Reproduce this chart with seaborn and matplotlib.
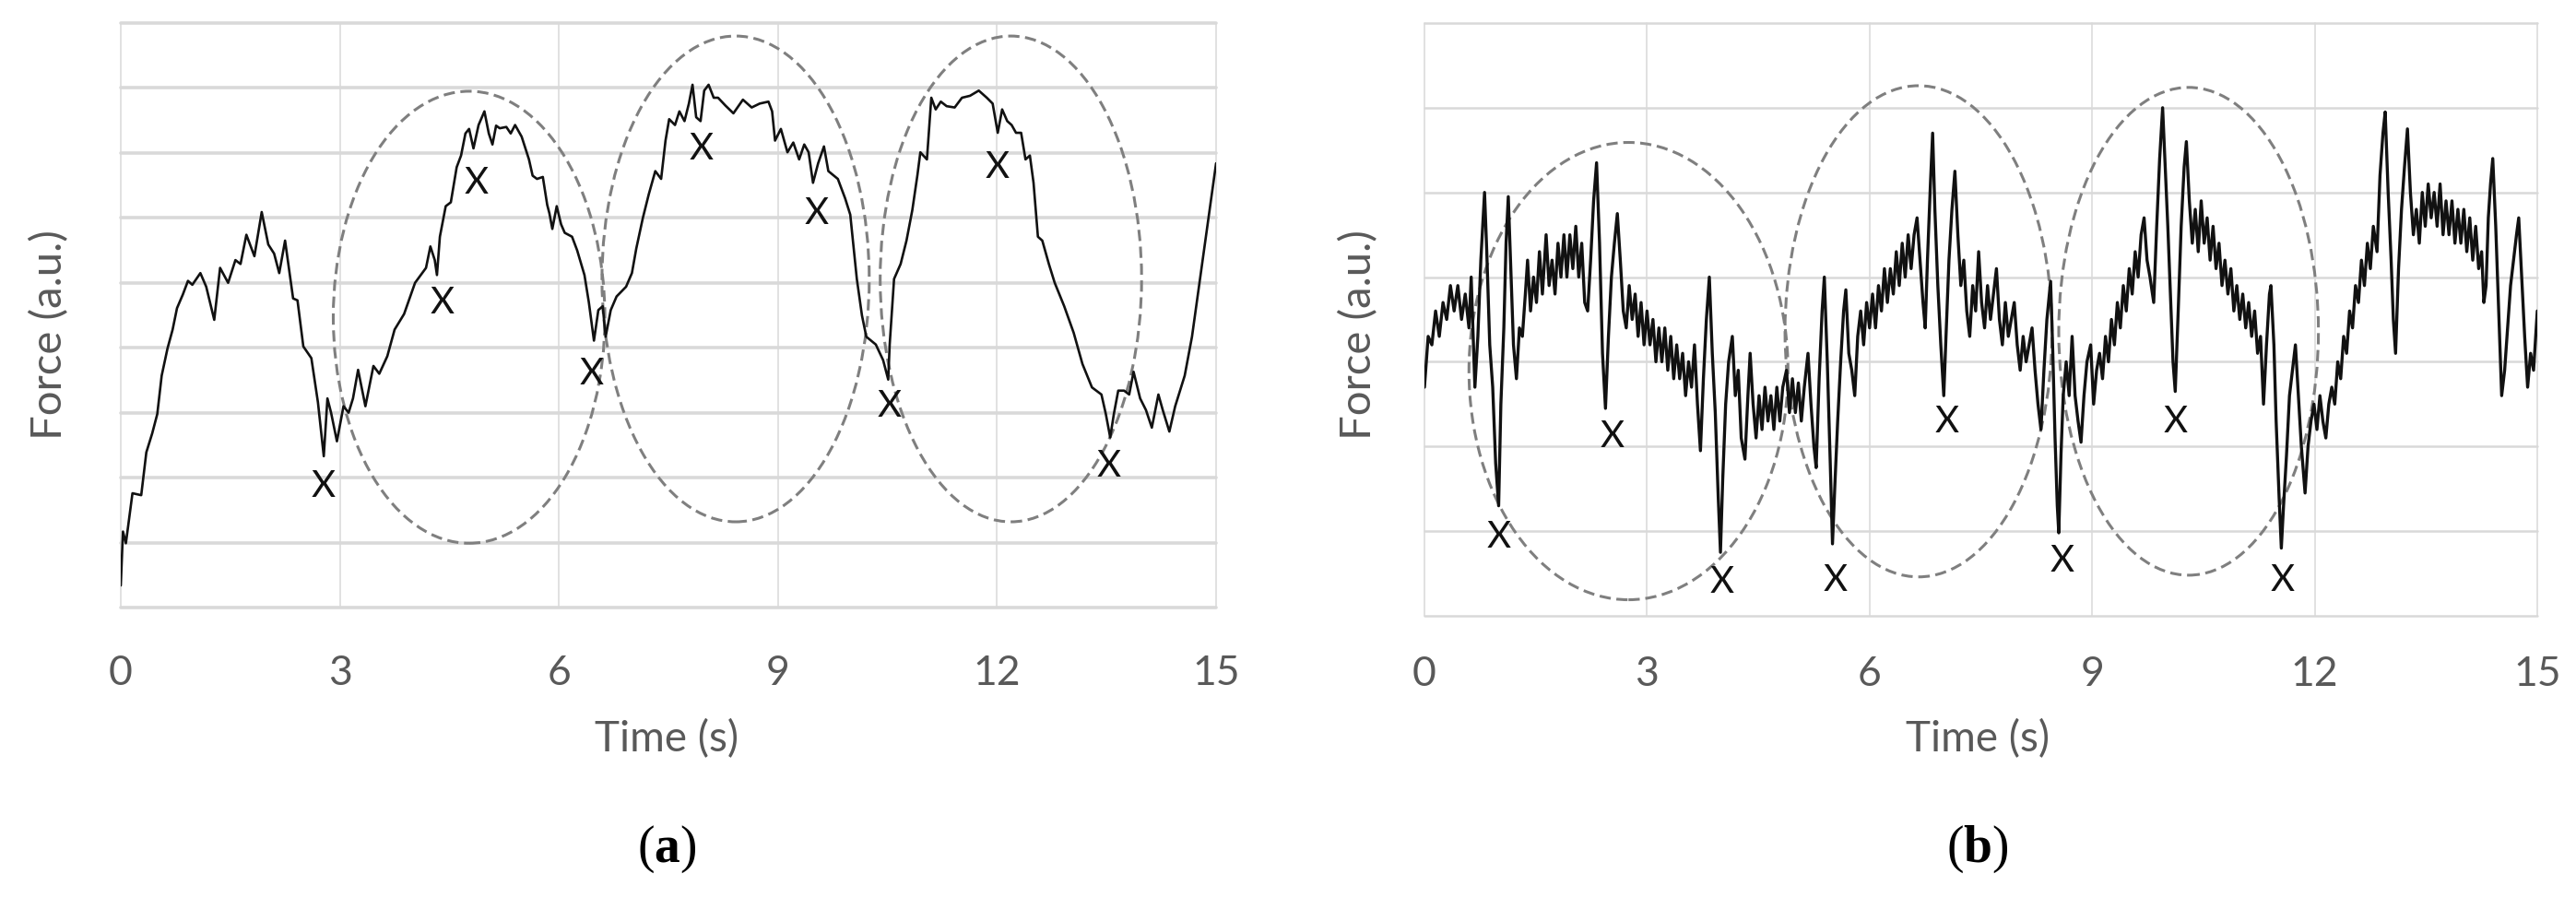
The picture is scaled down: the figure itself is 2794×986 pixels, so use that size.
import numpy as np
import pandas as pd
import matplotlib
matplotlib.use("Agg")
import matplotlib.pyplot as plt
from matplotlib.patches import Ellipse
import seaborn as sns

# ---------------- data ----------------
a_time = [0.00, 0.03, 0.07, 0.16, 0.28, 0.35, 0.43, 0.50, 0.56, 0.64, 0.71, 0.77, 0.85, 0.92, 0.98,
          1.09, 1.17, 1.28, 1.36, 1.47, 1.57, 1.64, 1.72, 1.83, 1.93, 2.02, 2.10, 2.17, 2.25, 2.36,
          2.42, 2.50, 2.61, 2.70, 2.78, 2.83, 2.88, 2.96, 3.05, 3.12, 3.18, 3.25, 3.35, 3.46, 3.54,
          3.65, 3.75, 3.88, 4.03, 4.18, 4.24, 4.30, 4.33, 4.37, 4.45, 4.52, 4.60, 4.66, 4.72, 4.77,
          4.83, 4.90, 4.98, 5.04, 5.09, 5.14, 5.19, 5.28, 5.34, 5.40, 5.49, 5.59, 5.64, 5.70, 5.78,
          5.84, 5.87, 5.91, 5.97, 6.03, 6.08, 6.18, 6.25, 6.29, 6.35, 6.41, 6.48, 6.54, 6.60, 6.64,
          6.71, 6.79, 6.92, 7.00, 7.06, 7.15, 7.23, 7.32, 7.40, 7.46, 7.51, 7.59, 7.65, 7.72, 7.78,
          7.83, 7.88, 7.94, 7.99, 8.05, 8.12, 8.18, 8.28, 8.39, 8.52, 8.64, 8.75, 8.87, 8.92, 8.96,
          9.04, 9.13, 9.21, 9.29, 9.36, 9.42, 9.48, 9.55, 9.63, 9.69, 9.82, 9.92, 9.99, 10.08, 10.15,
          10.21, 10.34, 10.44, 10.51, 10.53, 10.59, 10.68, 10.76, 10.84, 10.91, 10.95, 11.04, 11.10,
          11.16, 11.23, 11.31, 11.42, 11.52, 11.63, 11.75, 11.86, 11.94, 12.01, 12.07, 12.14, 12.20,
          12.26, 12.33, 12.39, 12.45, 12.50, 12.56, 12.62, 12.71, 12.79, 12.92, 13.05, 13.17, 13.30,
          13.43, 13.49, 13.55, 13.60, 13.66, 13.74, 13.81, 13.87, 13.96, 14.04, 14.12, 14.21, 14.27,
          14.36, 14.44, 14.57, 14.67, 14.78, 14.89, 15.00]
a_force = [0.34, 1.17, 0.99, 1.76, 1.73, 2.39, 2.68, 2.98, 3.57, 3.99, 4.28, 4.61, 4.82, 5.03, 4.97,
           5.15, 4.94, 4.43, 5.23, 5.00, 5.35, 5.29, 5.74, 5.41, 6.09, 5.59, 5.45, 5.15, 5.65, 4.76,
           4.73, 4.02, 3.84, 3.16, 2.33, 3.22, 3.00, 2.56, 3.10, 3.00, 3.22, 3.66, 3.10, 3.72, 3.60,
           3.87, 4.28, 4.52, 5.00, 5.23, 5.56, 5.35, 5.12, 5.71, 6.18, 6.24, 6.78, 6.96, 7.30, 7.37,
           7.07, 7.43, 7.64, 7.30, 7.13, 7.42, 7.38, 7.40, 7.30, 7.43, 7.25, 6.90, 6.65, 6.60, 6.63,
           6.20, 6.07, 5.83, 6.18, 5.90, 5.77, 5.71, 5.50, 5.35, 5.12, 4.70, 4.11, 4.58, 4.64, 4.17,
           4.58, 4.79, 4.94, 5.15, 5.53, 6.00, 6.36, 6.72, 6.60, 7.19, 7.52, 7.43, 7.64, 7.49, 7.76,
           8.05, 7.55, 7.49, 7.96, 8.05, 7.85, 7.85, 7.73, 7.61, 7.82, 7.70, 7.76, 7.79, 7.64, 7.19,
           7.37, 7.01, 7.16, 6.90, 7.13, 7.01, 6.54, 6.84, 7.10, 6.72, 6.60, 6.30, 6.05, 5.06, 4.50,
           4.17, 4.05, 3.81, 3.51, 4.05, 5.06, 5.29, 5.65, 6.12, 6.66, 7.01, 6.90, 7.85,
           7.67, 7.79, 7.72, 7.70, 7.85, 7.88, 7.96, 7.85, 7.76, 7.31, 7.67, 7.49, 7.43,
           7.31, 7.31, 6.90, 6.96, 6.54, 5.71, 5.65, 5.29, 5.00, 4.64, 4.23, 3.75, 3.39,
           3.28, 2.98, 2.62, 2.98, 3.34, 3.34, 3.28, 3.63, 3.22, 3.04, 2.77, 3.28, 3.04,
           2.71, 3.10, 3.57, 4.17, 5.06, 5.95, 6.84]

b_time = [0.00, 0.05, 0.10, 0.15, 0.20, 0.25, 0.30, 0.35, 0.40, 0.45, 0.50, 0.55, 0.60, 0.63, 0.68,
          0.72, 0.76, 0.81, 0.84, 0.88, 0.92, 0.96, 1.00, 1.03, 1.07, 1.10, 1.13, 1.16, 1.20, 1.24,
          1.28, 1.32, 1.36, 1.39, 1.43, 1.47, 1.51, 1.55, 1.59, 1.64, 1.68, 1.72, 1.76, 1.80, 1.84,
          1.88, 1.92, 1.96, 2.00, 2.04, 2.08, 2.12, 2.16, 2.20, 2.24, 2.28, 2.32, 2.36, 2.40, 2.44,
          2.48, 2.52, 2.56, 2.60, 2.64, 2.68, 2.72, 2.76, 2.80, 2.84, 2.88, 2.92, 2.96, 3.00, 3.04,
          3.08, 3.12, 3.16, 3.20, 3.24, 3.28, 3.32, 3.36, 3.40, 3.44, 3.48, 3.52, 3.56, 3.60, 3.64,
          3.68, 3.72, 3.76, 3.80, 3.84, 3.88, 3.92, 3.96, 3.99, 4.02, 4.06, 4.10, 4.15, 4.19, 4.23,
          4.27, 4.32, 4.36, 4.39, 4.43, 4.47, 4.51, 4.55, 4.59, 4.63, 4.67, 4.71, 4.75, 4.79, 4.83,
          4.88, 4.92, 4.96, 5.00, 5.04, 5.08, 5.12, 5.17, 5.21, 5.25, 5.28, 5.32, 5.36, 5.39, 5.43,
          5.47, 5.50, 5.53, 5.57, 5.61, 5.65, 5.68, 5.72, 5.76, 5.80, 5.84, 5.88, 5.92, 5.96, 6.00,
          6.04, 6.08, 6.12, 6.16, 6.20, 6.24, 6.28, 6.32, 6.36, 6.40, 6.44, 6.48, 6.52, 6.56, 6.60,
          6.64, 6.68, 6.72, 6.75, 6.78, 6.82, 6.85, 6.88, 6.92, 6.96, 7.00, 7.03, 7.07, 7.11, 7.15,
          7.19, 7.23, 7.27, 7.31, 7.35, 7.39, 7.43, 7.47, 7.51, 7.55, 7.59, 7.63, 7.67, 7.71, 7.75,
          7.79, 7.83, 7.87, 7.91, 7.95, 7.99, 8.03, 8.07, 8.11, 8.15, 8.19, 8.23, 8.27, 8.31, 8.35,
          8.39, 8.44, 8.47, 8.50, 8.53, 8.55, 8.58, 8.61, 8.65, 8.69, 8.73, 8.77, 8.81, 8.85, 8.89,
          8.93, 8.98, 9.02, 9.06, 9.10, 9.14, 9.18, 9.22, 9.26, 9.30, 9.34, 9.38, 9.42, 9.46, 9.50,
          9.54, 9.58, 9.62, 9.66, 9.70, 9.74, 9.78, 9.83, 9.87, 9.91, 9.95, 9.98, 10.02, 10.06, 10.09,
          10.12, 10.16, 10.20, 10.24, 10.27, 10.31, 10.35, 10.39, 10.43, 10.47, 10.51, 10.55, 10.59,
          10.63, 10.67, 10.71, 10.75, 10.79, 10.83, 10.87, 10.91, 10.95, 10.99, 11.03, 11.07, 11.11,
          11.15, 11.19, 11.23, 11.27, 11.31, 11.35, 11.39, 11.41, 11.45, 11.48, 11.52, 11.55, 11.58,
          11.62, 11.66, 11.70, 11.74, 11.78, 11.82, 11.87, 11.91, 11.95, 11.99, 12.03, 12.07, 12.11,
          12.15, 12.19, 12.23, 12.27, 12.31, 12.35, 12.39, 12.43, 12.47, 12.51, 12.55, 12.59, 12.63,
          12.67, 12.71, 12.75, 12.79, 12.84, 12.88, 12.92, 12.95, 12.99, 13.03, 13.06, 13.09, 13.13,
          13.17, 13.21, 13.25, 13.29, 13.33, 13.37, 13.41, 13.45, 13.49, 13.53, 13.57, 13.61, 13.65,
          13.69, 13.73, 13.77, 13.81, 13.85, 13.89, 13.93, 13.97, 14.01, 14.05, 14.09, 14.13, 14.17,
          14.21, 14.25, 14.28, 14.31, 14.34, 14.37, 14.40, 14.44, 14.48, 14.52, 14.56, 14.60, 14.64,
          14.68, 14.72, 14.75, 14.79, 14.83, 14.87, 14.91, 14.95, 15.00]
b_force = [2.70, 3.30, 3.20, 3.60, 3.30, 3.70, 3.50, 3.90, 3.60, 3.90, 3.50, 3.80, 3.40, 4.00, 2.70,
           3.30, 4.20, 5.00, 4.30, 3.20, 2.70, 1.80, 1.30, 2.50, 3.40, 4.40, 4.95, 4.20, 3.20, 2.80,
           3.40, 3.30, 3.80, 4.20, 3.60, 4.00, 3.70, 4.30, 3.80, 4.50, 3.90, 4.20, 3.80, 4.40, 4.00,
           4.50, 4.00, 4.50, 4.10, 4.60, 4.00, 4.40, 3.70, 3.60, 4.20, 4.90, 5.35, 4.40, 3.10, 2.45,
           3.30, 4.00, 4.40, 4.75, 4.20, 3.60, 3.40, 3.90, 3.50, 3.80, 3.30, 3.70, 3.20, 3.60, 3.20,
           3.50, 3.00, 3.40, 3.00, 3.40, 2.90, 3.30, 2.80, 3.20, 2.80, 3.10, 2.60, 3.00, 2.70, 3.20,
           2.50, 1.95, 2.80, 3.50, 4.00, 3.10, 2.40, 1.40, 0.75, 1.60, 2.50, 3.00, 3.30, 2.60, 2.90,
           2.10, 1.85, 2.60, 3.10, 2.50, 2.10, 2.60, 2.20, 2.70, 2.30, 2.60, 2.20, 2.70, 2.30, 2.70,
           2.90, 2.40, 2.80, 2.40, 2.75, 2.30, 2.70, 3.10, 2.50, 2.00, 1.75, 2.80, 3.60, 4.00, 3.00,
           1.80, 0.85, 1.50, 2.30, 3.00, 3.60, 3.85, 3.10, 2.90, 2.60, 3.30, 3.60, 3.20, 3.70, 3.40,
           3.80, 3.40, 3.90, 3.60, 4.10, 3.70, 4.10, 3.80, 4.30, 3.90, 4.40, 4.00, 4.50, 4.10, 4.50,
           4.70, 4.20, 3.70, 3.40, 4.20, 5.10, 5.70, 4.80, 3.90, 3.20, 2.60, 3.30, 4.20, 4.80, 5.25,
           4.50, 3.90, 4.20, 3.60, 3.30, 3.90, 3.60, 4.30, 3.70, 3.40, 3.90, 3.50, 3.80, 4.10, 3.50,
           3.20, 3.70, 3.30, 3.50, 3.70, 3.20, 2.90, 3.30, 3.00, 3.20, 3.40, 2.90, 2.50, 2.20, 2.90,
           3.50, 3.95, 3.10, 2.10, 1.30, 0.98, 1.90, 2.60, 3.00, 2.60, 3.30, 2.60, 2.30, 2.05, 2.60,
           3.00, 3.20, 2.50, 2.90, 3.10, 2.80, 3.30, 3.00, 3.50, 3.20, 3.70, 3.40, 3.90, 3.60, 4.10,
           3.80, 4.30, 4.00, 4.50, 4.70, 4.20, 4.00, 3.70, 4.60, 5.40, 6.00, 5.40, 4.60, 3.70, 3.00,
           2.65, 3.60, 4.60, 5.30, 5.60, 4.90, 4.40, 4.80, 4.30, 4.90, 4.40, 4.70, 4.20,
           4.60, 4.10, 4.40, 3.90, 4.20, 3.80, 4.10, 3.60, 3.90, 3.50, 3.80, 3.40, 3.70,
           3.30, 3.60, 3.10, 3.30, 2.50, 3.20, 3.80, 3.90, 3.20, 2.30, 1.40, 0.80, 1.30,
           1.90, 2.60, 2.90, 3.20, 2.60, 2.00, 1.45, 2.00, 2.30, 2.50, 2.20, 2.60, 2.30,
           2.10, 2.50, 2.70, 2.50, 3.00, 2.80, 3.30, 3.10, 3.60, 3.40, 3.90, 3.70, 4.20,
           3.90, 4.40, 4.10, 4.60, 4.30, 5.20, 5.70, 5.95, 5.00, 4.20, 3.50, 3.10, 4.10,
           4.80, 5.30, 5.75, 5.00, 4.50, 4.80, 4.40, 5.00, 4.60, 5.10, 4.70, 5.00, 4.60,
           5.10, 4.50, 4.90, 4.50, 4.90, 4.40, 4.80, 4.40, 4.80, 4.30, 4.70, 4.20, 4.60,
           4.10, 4.30, 3.70, 3.90, 4.70, 5.10, 5.40, 4.60, 3.60, 2.60, 2.90, 3.40, 3.90,
           4.20, 4.50, 4.70, 4.00, 3.30, 2.70, 3.10, 2.90, 3.60]

# "X" annotations
a_mark_t = [2.77, 4.40, 4.87, 6.45, 7.95, 9.53, 10.53, 12.00, 13.53]
a_mark_y = [1.86, 4.69, 6.54, 3.60, 7.06, 6.07, 3.10, 6.78, 2.18]
b_mark_t = [1.00, 2.53, 4.01, 5.54, 7.04, 8.59, 10.12, 11.57]
b_mark_y = [0.93, 2.12, 0.40, 0.42, 2.29, 0.65, 2.29, 0.42]

# dashed ellipses: centre time, centre force, half-width (s), half-height
a_ell_t = [4.77, 8.42, 12.19]
a_ell_y = [4.47, 5.06, 5.06]
a_ell_w = [1.86, 1.83, 1.79]
a_ell_h = [3.48, 3.74, 3.74]
b_ell_t = [2.75, 6.66, 10.30]
b_ell_y = [2.89, 3.36, 3.36]
b_ell_w = [2.15, 1.80, 1.75]
b_ell_h = [2.70, 2.90, 2.88]

x_ticks = [0, 3, 6, 9, 12, 15]
x_label = "Time (s)"
y_label = "Force (a.u.)"
panel_letters = ["a", "b"]

# ---------------- style ----------------
sns.set_theme(style="white")
plt.rcParams["font.family"] = ["Lato", "DejaVu Sans"]
plt.rcParams["mathtext.fontset"] = "custom"
plt.rcParams["mathtext.bf"] = "Liberation Serif:bold"
plt.rcParams["mathtext.rm"] = "Liberation Serif"

W, H = 2794, 986
fig = plt.figure(figsize=(W / 100, H / 100), dpi=100)
fig.patch.set_facecolor("white")

GRID = "#d9d9d9"
TXT = "#595959"


def frac(l, t, r, b):
    return [l / W, 1 - b / H, (r - l) / W, (b - t) / H]


panels = [
    dict(rect=frac(131, 25, 1319, 659), t=a_time, f=a_force, ymax=9, lw=1.9,
         hgrid=2.6, mt=a_mark_t, my=a_mark_y, pad=37,
         et=a_ell_t, ey=a_ell_y, ew=a_ell_w, eh=a_ell_h, ylx=54, cx=723),
    dict(rect=frac(1545, 25, 2752, 668), t=b_time, f=b_force, ymax=7, lw=2.4,
         hgrid=1.8, mt=b_mark_t, my=b_mark_y, pad=31,
         et=b_ell_t, ey=b_ell_y, ew=b_ell_w, eh=b_ell_h, ylx=1474, cx=2145),
]

for i, p in enumerate(panels):
    ax = fig.add_axes(p["rect"])
    ax.set_facecolor("white")
    df = pd.DataFrame({"t": p["t"], "f": p["f"]})
    sns.lineplot(data=df, x="t", y="f", ax=ax, color="#111111", lw=p["lw"],
                 estimator=None, sort=False, zorder=3)
    ax.set_xlim(0, 15)
    ax.set_ylim(0, p["ymax"])
    ax.set_xticks(x_ticks)
    ax.set_yticks(range(p["ymax"] + 1))
    ax.set_yticklabels([])
    ax.grid(False)
    for yy in range(p["ymax"] + 1):
        ax.axhline(yy, color=GRID, lw=p["hgrid"], zorder=1, clip_on=False)
    for xx in x_ticks:
        ax.axvline(xx, color=GRID, lw=1.1, zorder=1, clip_on=False)
    for s in ax.spines.values():
        s.set_visible(False)
    ax.tick_params(axis="x", length=0, pad=p["pad"], labelsize=32,
                   labelcolor=TXT)
    ax.tick_params(axis="y", length=0)
    ax.set_xlabel("")
    ax.set_ylabel("")

    for cx, cy, ew, eh in zip(p["et"], p["ey"], p["ew"], p["eh"]):
        ax.add_patch(Ellipse((cx, cy), 2 * ew, 2 * eh, fill=False,
                             edgecolor="#7f7f7f", lw=2.2, ls=(0, (4, 2)), zorder=2))
    for mt, my in zip(p["mt"], p["my"]):
        ax.text(mt, my, "X", ha="center", va="center", fontsize=29,
                color="#111111", zorder=4)

    # axis titles and panel letters in figure pixels
    fig.text(p["cx"] / W, 1 - 802 / H, x_label, ha="center", va="center",
             fontsize=33, color=TXT)
    fig.text(p["ylx"] / W, 1 - 363 / H, y_label, rotation=90,
             ha="center", va="center", fontsize=34, color=TXT)
    fig.text(p["cx"] / W, 1 - 921 / H,
             r"($\mathbf{" + panel_letters[i] + r"}$)", ha="center", va="center",
             fontsize=40, color="black", family="Liberation Serif")

fig.savefig("out.png", dpi=100, facecolor="white")
